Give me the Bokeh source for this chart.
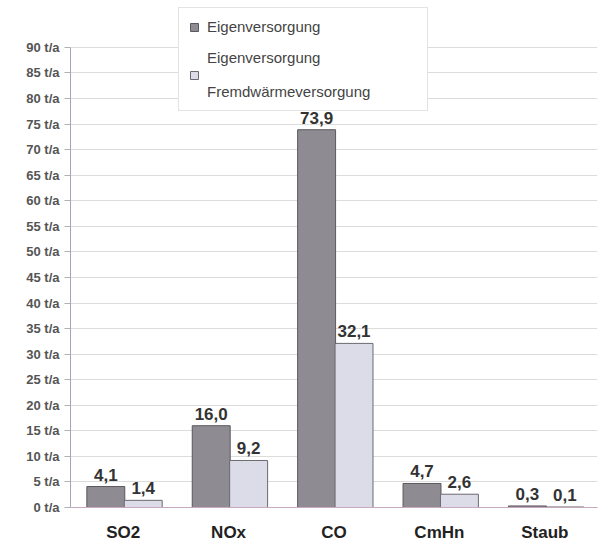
from bokeh.plotting import figure
from bokeh.models import ColumnDataSource, FactorRange, Range1d, LabelSet, Legend, LegendItem
from bokeh.transform import dodge
from bokeh.core.properties import value
from bokeh.embed import file_html
from bokeh.resources import INLINE

categories = ["SO2", "NOx", "CO", "CmHn", "Staub"]
eigen = [4.1, 16.0, 73.9, 4.7, 0.3]
fremd = [1.4, 9.2, 32.1, 2.6, 0.1]
series_names = ["Eigenversorgung", "Eigenversorgung\n\nFremdwärmeversorgung"]
y_ticks = [0, 5, 10, 15, 20, 25, 30, 35, 40, 45, 50, 55, 60, 65, 70, 75, 80, 85, 90]
y_tick_labels = ["0 t/a", "5 t/a", "10 t/a", "15 t/a", "20 t/a", "25 t/a", "30 t/a",
                 "35 t/a", "40 t/a", "45 t/a", "50 t/a", "55 t/a", "60 t/a", "65 t/a",
                 "70 t/a", "75 t/a", "80 t/a", "85 t/a", "90 t/a"]

fmt = lambda v: f"{v:.1f}".replace(".", ",")
src = ColumnDataSource(dict(
    cat=categories, eigen=eigen, fremd=fremd,
    eigen_lbl=[fmt(v) for v in eigen], fremd_lbl=[fmt(v) for v in fremd],
))

# frame spans y 5..507 px; 0..90 occupies 460 px, the extra headroom holds the legend
p = figure(width=608, height=548, x_range=FactorRange(*categories, range_padding=0),
           y_range=Range1d(0, 98.2), output_backend="svg", toolbar_location=None,
           min_border_left=70, min_border_right=11, min_border_top=5, min_border_bottom=41)
p.outline_line_color = None
p.background_fill_color = "white"
p.border_fill_color = "white"

FONT = "Liberation Sans"
r1 = p.vbar(x=dodge("cat", -0.165, range=p.x_range), top="eigen", width=0.36, source=src,
            fill_color="#8e8b92", line_color="#5a585c", line_width=1)
r2 = p.vbar(x=dodge("cat", 0.19, range=p.x_range), top="fremd", width=0.36, source=src,
            fill_color="#dcdce8", line_color="#6a6a70", line_width=1)

for col, off in (("eigen", -0.165), ("fremd", 0.19)):
    p.add_layout(LabelSet(x=dodge("cat", off, range=p.x_range), y=col, text=col + "_lbl",
                          source=src, text_align="center", text_baseline="bottom",
                          y_offset=6, text_font=value(FONT), text_font_style="bold",
                          text_font_size="17px", text_color="#333333"))

# axes
p.yaxis.ticker = y_ticks
p.yaxis.bounds = (0, 90)
p.yaxis.major_label_overrides = {t: l for t, l in zip(y_ticks, y_tick_labels)}
p.yaxis.major_label_text_font = FONT
p.yaxis.major_label_text_font_style = "bold"
p.yaxis.major_label_text_font_size = "13px"
p.yaxis.major_label_text_color = "#555555"
p.yaxis.axis_line_color = "#a8a4b4"
p.yaxis.major_tick_line_color = "#b0b0b8"
p.yaxis.major_tick_out = 6
p.yaxis.major_tick_in = 0
p.yaxis.minor_tick_line_color = None

p.xaxis.major_label_text_font = FONT
p.xaxis.major_label_text_font_style = "bold"
p.xaxis.major_label_text_font_size = "17px"
p.xaxis.major_label_text_color = "#222222"
p.xaxis.major_label_standoff = 9
p.xaxis.axis_line_color = "#c8a8c0"
p.xaxis.major_tick_line_color = None

p.xgrid.grid_line_color = None
p.ygrid.grid_line_color = "#dcdcdc"
p.ygrid.ticker = y_ticks

legend = Legend(items=[LegendItem(label=series_names[0], renderers=[r1]),
                       LegendItem(label=series_names[1], renderers=[r2])],
                location=(108, 396), orientation="vertical",
                label_text_font=FONT, label_text_font_size="15px",
                label_text_color="#444444", glyph_width=10, glyph_height=10,
                border_line_color="#c8c8c8", background_fill_color="white",
                background_fill_alpha=1, padding=10, spacing=14, label_standoff=8,
                label_width=210, margin=0)
p.add_layout(legend, "center")

open("out.html", "w").write(file_html(p, INLINE))
